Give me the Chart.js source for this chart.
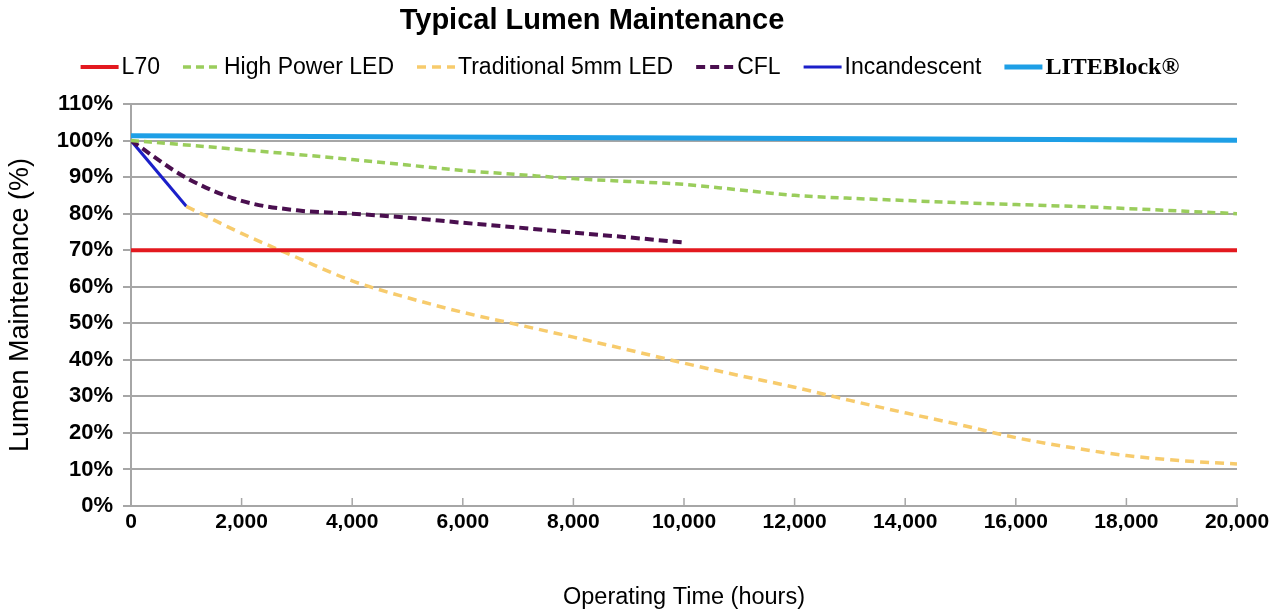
<!DOCTYPE html>
<html lang="en">
<head>
    <meta charset="UTF-8">
    <title>Typical Lumen Maintenance</title>
    <script src="https://cdn.jsdelivr.net/npm/chart.js"></script>
    <style>
        html, body { margin: 0; padding: 0; background: #fff; }
        #wrap { width: 1284px; height: 609px; }
    </style>
</head>
<body>
    <div id="wrap"><canvas id="lumenChart"></canvas></div>
    <script>
        // operating hours
        const hours = [0, 1000, 2000, 3000, 4000, 5000, 6000, 7000, 8000, 9000, 10000,
            11000, 12000, 13000, 14000, 15000, 16000, 17000, 18000, 19000, 20000];

        const l70 = [70, null, null, null, null, null, null, null, null, null, null,
            null, null, null, null, null, null, null, null, null, 70];
        const highPowerLed = [100, 98.8, 97.5, 96.2, 94.8, 93.3, 91.8, 90.7, 89.6, 88.8, 88,
            86.5, 85, 84.2, 83.6, 83, 82.5, 82, 81.4, 80.7, 80];
        const traditional5mm = [null, 82, 74.6, 68, 61.6, 57, 53, 49.6, 46.2, 42.7, 39.1,
            35.7, 32.5, 28.9, 25.5, 22.2, 18.7, 16, 13.8, 12.4, 11.5];
        const cfl = [100, 89.8, 83.5, 80.9, 80, 78.9, 77.5, 76.2, 74.8, 73.5, 72.1,
            null, null, null, null, null, null, null, null, null, null];
        const incandescent = [100, 82, null, null, null, null, null, null, null, null, null,
            null, null, null, null, null, null, null, null, null, null];
        const liteBlock = [101.3, null, null, null, null, null, null, null, null, null, null,
            null, null, null, null, null, null, null, null, null, 100.1];

        const yTicks = [0, 10, 20, 30, 40, 50, 60, 70, 80, 90, 100, 110];

        function points(values) {
            const out = [];
            values.forEach((v, i) => { if (v !== null) out.push({ x: hours[i], y: v }); });
            return out;
        }

        const sans = 'Arial, "Liberation Sans", sans-serif';
        Chart.defaults.font.family = sans;
        Chart.defaults.color = '#000';

        // title + legend drawn by hand so LITEBlock can have its own font
        const headerPlugin = {
            id: 'header',
            afterDraw(chart) {
                const c = chart.ctx;
                c.save();
                c.fillStyle = '#000';
                c.textBaseline = 'middle';
                c.textAlign = 'center';
                c.font = 'bold 29px ' + sans;
                c.fillText('Typical Lumen Maintenance', 592, 21);

                const items = chart.data.datasets.map(ds => ({
                    text: ds.label,
                    font: ds.label === 'LITEBlock®' ? 'bold 24px "Liberation Serif", "Times New Roman", serif' : '23px ' + sans,
                    color: ds.borderColor,
                    dash: ds.borderDash || [],
                    width: ds.legendWidth
                }));
                const lineLen = 38, gap = 3, itemGap = 23;
                let total = 0;
                items.forEach(it => {
                    c.font = it.font;
                    it.w = c.measureText(it.text).width;
                    total += lineLen + gap + it.w;
                });
                total += itemGap * (items.length - 1);
                let x = 630 - total / 2;
                const y = 67;
                c.textAlign = 'left';
                items.forEach(it => {
                    c.beginPath();
                    c.strokeStyle = it.color;
                    c.lineWidth = it.width;
                    c.setLineDash(it.dash);
                    c.moveTo(x, y);
                    c.lineTo(x + lineLen, y);
                    c.stroke();
                    c.setLineDash([]);
                    c.font = it.font;
                    c.fillText(it.text, x + lineLen + gap, y + 1);
                    x += lineLen + gap + it.w + itemGap;
                });

                // small x tick marks inside the plot
                const xs = chart.scales.x, ys = chart.scales.y;
                c.strokeStyle = '#a6a6a6';
                c.lineWidth = 1.5;
                xs.ticks.forEach(t => {
                    const px = xs.getPixelForValue(t.value);
                    c.beginPath();
                    c.moveTo(px, ys.bottom);
                    c.lineTo(px, ys.bottom - 8);
                    c.stroke();
                });
                c.restore();
            }
        };

        const ctx = document.getElementById('lumenChart').getContext('2d');
        const lumenChart = new Chart(ctx, {
            type: 'line',
            data: {
                datasets: [
                    { label: 'L70', data: points(l70), borderColor: '#e3191f', borderWidth: 4, legendWidth: 4 },
                    { label: 'High Power LED', data: points(highPowerLed), borderColor: '#9acd5c', borderWidth: 3.5,
                      borderDash: [8, 5], legendWidth: 3.5, cubicInterpolationMode: 'monotone' },
                    { label: 'Traditional 5mm LED', data: points(traditional5mm), borderColor: '#f7cb6c', borderWidth: 3.5,
                      borderDash: [9, 6], legendWidth: 3.5, cubicInterpolationMode: 'monotone' },
                    { label: 'CFL', data: points(cfl), borderColor: '#4a0f4f', borderWidth: 4,
                      borderDash: [9, 5], legendWidth: 4, cubicInterpolationMode: 'monotone' },
                    { label: 'Incandescent', data: points(incandescent), borderColor: '#1b1fc9', borderWidth: 3, legendWidth: 3 },
                    { label: 'LITEBlock®', data: points(liteBlock), borderColor: '#1e9fe6', borderWidth: 5, legendWidth: 5 }
                ]
            },
            options: {
                responsive: true,
                maintainAspectRatio: false,
                animation: false,
                elements: { point: { radius: 0 } },
                layout: { padding: { left: 0, right: 47, top: 104, bottom: 0 } },
                plugins: {
                    legend: { display: false },
                    title: { display: false },
                    tooltip: { enabled: false }
                },
                scales: {
                    x: {
                        type: 'linear',
                        min: 0,
                        max: 20000,
                        afterBuildTicks: s => { s.ticks = hours.filter(h => h % 2000 === 0).map(v => ({ value: v })); },
                        ticks: {
                            callback: v => v.toLocaleString('en-US'),
                            font: { size: 21, weight: 'bold' },
                            padding: 4,
                            maxRotation: 0
                        },
                        grid: { drawOnChartArea: false, drawTicks: false },
                        border: { color: '#a6a6a6', width: 2 },
                        title: {
                            display: true,
                            text: 'Operating Time (hours)',
                            font: { size: 23.5, lineHeight: 1.0 },
                            padding: { top: 38, bottom: 0 }
                        },
                        afterFit: s => { s.height = 103; }
                    },
                    y: {
                        min: 0,
                        max: 110,
                        afterBuildTicks: s => { s.ticks = yTicks.map(v => ({ value: v })); },
                        ticks: {
                            callback: v => v + '%',
                            font: { size: 22, weight: 'bold' },
                            padding: 10
                        },
                        grid: { color: '#a6a6a6', lineWidth: 2, tickLength: 8 },
                        border: { color: '#a6a6a6', width: 2 },
                        title: {
                            display: true,
                            text: 'Lumen Maintenance (%)',
                            font: { size: 27 },
                            padding: { top: 4, bottom: 0 }
                        },
                        afterFit: s => { s.width = 131; }
                    }
                }
            },
            plugins: [headerPlugin]
        });
    </script>
</body>
</html>
